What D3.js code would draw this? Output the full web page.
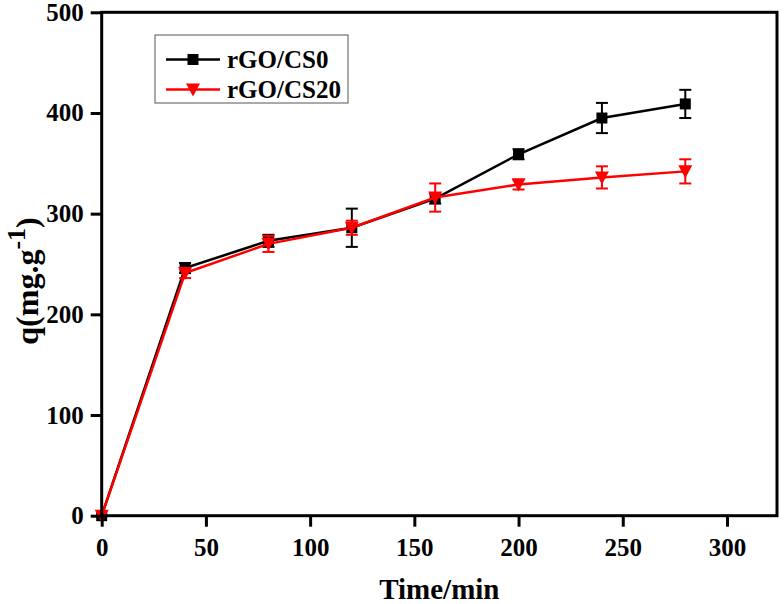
<!DOCTYPE html>
<html><head><meta charset="utf-8">
<script src="https://cdn.jsdelivr.net/npm/d3@7"></script>
<style>body{margin:0;background:#fff}svg{display:block}svg text{font-family:"Liberation Serif","Times New Roman",serif !important;font-weight:bold !important}</style>
</head><body>
<script>
const time = [0, 40, 80, 120, 160, 200, 240, 280];
const cs0 = [0, 246, 273, 286, 315, 359, 395, 409];
const cs0Err = [0, 5, 6, 19, 5, 5, 15, 14];
const cs20 = [0, 241, 270, 286, 316, 329, 336, 342];
const cs20Err = [0, 5, 8, 7, 14, 5, 11, 12];
const xTicks = [0, 50, 100, 150, 200, 250, 300];
const yTicks = [0, 100, 200, 300, 400, 500];
const seriesNames = ["rGO/CS0", "rGO/CS20"];
const colors = ["#000000", "#ff0000"];

const W = 784, H = 604;
const L = 101.7, R = 777, T = 12.3, B = 515.7;
const FONT = "Liberation Serif, Times New Roman, serif";
const svg = d3.select("body").append("svg").attr("width", W).attr("height", H);
const x = d3.scaleLinear().domain([0, 324]).range([L, R]);
const y = d3.scaleLinear().domain([0, 500]).range([B, T]);

const series = [
  {name: seriesNames[0], v: cs0, e: cs0Err, color: colors[0], sym: "square"},
  {name: seriesNames[1], v: cs20, e: cs20Err, color: colors[1], sym: "tri"}
];

function marker(g, sym, color) {
  if (sym === "square") {
    g.append("rect").attr("x", -5.5).attr("y", -5.5).attr("width", 11).attr("height", 11).attr("fill", color);
  } else {
    g.append("path").attr("d", "M-7,-6L7,-6L0,7Z").attr("fill", color);
  }
}

series.forEach(s => {
  const g = svg.append("g");
  const pts = time.map((t, i) => ({t, v: s.v[i], e: s.e[i]}));
  pts.filter(p => p.e > 0).forEach(p => {
    const eg = g.append("g").attr("stroke", s.color).attr("stroke-width", 2);
    eg.append("line").attr("x1", x(p.t)).attr("x2", x(p.t)).attr("y1", y(p.v - p.e)).attr("y2", y(p.v + p.e));
    [p.v - p.e, p.v + p.e].forEach(vv => eg.append("line").attr("x1", x(p.t) - 6).attr("x2", x(p.t) + 6).attr("y1", y(vv)).attr("y2", y(vv)));
  });
  g.append("path").datum(pts)
    .attr("d", d3.line().x(d => x(d.t)).y(d => y(d.v)))
    .attr("fill", "none").attr("stroke", s.color).attr("stroke-width", 2.5);
  pts.forEach(p => {
    const mg = g.append("g").attr("transform", `translate(${x(p.t)},${y(p.v)})`);
    marker(mg, s.sym, s.color);
  });
});

svg.append("rect").attr("x", L).attr("y", T).attr("width", R - L).attr("height", B - T)
  .attr("fill", "none").attr("stroke", "#000").attr("stroke-width", 3);

const xAx = svg.append("g").attr("transform", `translate(0,${B})`);
xAx.call(d3.axisBottom(x).tickValues(d3.range(25, 324, 50)).tickSize(7).tickFormat(""));
xAx.call(d3.axisBottom(x).tickValues(xTicks).tickSize(11).tickPadding(12).tickFormat(d3.format("d")));
xAx.selectAll(".domain").remove();
xAx.selectAll("line").attr("stroke-width", 3);
xAx.attr("font-family", FONT).attr("font-weight", "bold");
xAx.selectAll("text").attr("font-size", 25).attr("fill", "#000");

const yAx = svg.append("g").attr("transform", `translate(${L},0)`);
yAx.call(d3.axisLeft(y).tickValues(d3.range(50, 500, 100)).tickSize(6).tickFormat(""));
yAx.call(d3.axisLeft(y).tickValues(yTicks).tickSize(11).tickPadding(7).tickFormat(d3.format("d")));
yAx.selectAll(".domain").remove();
yAx.selectAll("line").attr("stroke-width", 3);
yAx.attr("font-family", FONT).attr("font-weight", "bold");
yAx.selectAll("text").attr("font-size", 25).attr("fill", "#000");

svg.append("text").attr("x", (L + R) / 2).attr("y", 599).attr("text-anchor", "middle")
  .attr("font-family", FONT).attr("font-weight", "bold")
  .attr("font-size", 29).text("Time/min");
const yt = svg.append("text").attr("transform", "translate(38,281) rotate(-90)").attr("text-anchor", "middle")
  .attr("font-family", FONT).attr("font-weight", "bold").attr("font-size", 32);
yt.append("tspan").text("q(mg.g");
yt.append("tspan").attr("dy", -13).attr("font-size", 26).text("-1");
yt.append("tspan").attr("dy", 13).text(")");

const lg = svg.append("g").attr("font-family", FONT).attr("font-weight", "bold");
lg.append("rect").attr("x", 155).attr("y", 35).attr("width", 193).attr("height", 68)
  .attr("fill", "#fff").attr("stroke", "#555").attr("stroke-width", 1);
series.forEach((s, i) => {
  const yy = 59.5 + i * 30;
  lg.append("line").attr("x1", 166).attr("x2", 220).attr("y1", yy).attr("y2", yy).attr("stroke", s.color).attr("stroke-width", 2.5);
  const mg = lg.append("g").attr("transform", `translate(193,${yy})`);
  marker(mg, s.sym, s.color);
  lg.append("text").attr("x", 227).attr("y", yy + 8).attr("font-size", 25).text(s.name);
});
</script>
</body></html>
